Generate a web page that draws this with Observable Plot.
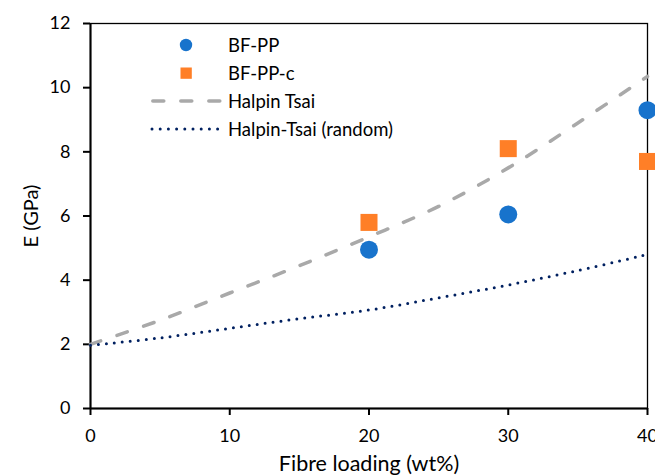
<!DOCTYPE html>
<html><head><meta charset="utf-8">
<script src="https://cdn.jsdelivr.net/npm/d3@7"></script>
<script src="https://cdn.jsdelivr.net/npm/@observablehq/plot@0.6"></script>
<style>
body{margin:0;background:#fff;}
#wrap{position:relative;width:655px;height:475px;overflow:hidden;font-family:Lato, sans-serif;}
#wrap svg [aria-label="x-axis label"] text{font-size:21.5px;}
#wrap svg [aria-label="y-axis label"] text{font-size:20px;}
.legend{position:absolute;left:150px;top:31px;}
.row{display:flex;align-items:center;height:28px;}
.row span{font-size:18.5px;color:#000;margin-left:6px;white-space:nowrap;}
.row svg{display:block;}
</style></head><body><div id="wrap"></div>
<script>
// data
const loading = [20, 30, 40];
const bfpp = [4.95, 6.05, 9.3];
const bfppc = [5.8, 8.1, 7.7];
const modelX = [0, 5, 10, 15, 20, 25, 30, 35, 40];
const halpinTsai = [2.0, 2.75, 3.6, 4.45, 5.35, 6.3, 7.5, 8.9, 10.35];
const halpinTsaiRandom = [1.97, 2.2, 2.5, 2.8, 3.07, 3.45, 3.85, 4.3, 4.8];
const xTicks = [0, 10, 20, 30, 40];
const yTicks = [0, 2, 4, 6, 8, 10, 12];
const seriesNames = ["BF-PP", "BF-PP-c", "Halpin Tsai", "Halpin-Tsai (random)"];

const colBlue = "#1873CC", colOrange = "#FF7F27", colGray = "#A9A9A9", colNavy = "#002060";

const pts1 = loading.map((x, i) => ({x, y: bfpp[i]}));
const pts2 = loading.map((x, i) => ({x, y: bfppc[i]}));
const ht = modelX.map((x, i) => ({x, y: halpinTsai[i]}));
const htr = modelX.map((x, i) => ({x, y: halpinTsaiRandom[i]}));

const chart = Plot.plot({
  width: 655, height: 475,
  marginLeft: 90, marginRight: 8, marginTop: 23, marginBottom: 67,
  style: {fontFamily: "Lato, sans-serif", fontSize: "18px", color: "#000", background: "#fff"},
  x: {domain: [0, 40]},
  y: {domain: [0, 12]},
  marks: [
    Plot.frame({stroke: "#000", strokeWidth: 1.3}),
    Plot.axisX({ticks: xTicks, tickSize: 7, tickPadding: 14, strokeWidth: 2, fontSize: 18,
      label: "Fibre loading (wt%)", labelAnchor: "center", labelOffset: 62, labelArrow: "none"}),
    Plot.axisY({ticks: yTicks, tickSize: 7, tickPadding: 13, strokeWidth: 2, fontSize: 18,
      label: "E (GPa)", labelAnchor: "center", labelOffset: 67, labelArrow: "none"}),
    Plot.ruleX([0], {stroke: "#000", strokeWidth: 2}),
    Plot.ruleY([0], {stroke: "#000", strokeWidth: 2}),
    Plot.line(ht, {x: "x", y: "y", stroke: colGray, strokeWidth: 3.5, strokeDasharray: "11,17", strokeLinecap: "round", curve: "catmull-rom"}),
    Plot.line(htr, {x: "x", y: "y", stroke: colNavy, strokeWidth: 3, strokeDasharray: "0,8", strokeLinecap: "round", curve: "catmull-rom"}),
    Plot.dot(pts1, {x: "x", y: "y", r: 9, fill: colBlue, symbol: "circle"}),
    Plot.dot(pts2, {x: "x", y: "y", r: 9.6, fill: colOrange, symbol: "square"})
  ]
});
const wrap = document.getElementById("wrap");
wrap.appendChild(chart);

// legend overlay
const legend = document.createElement("div");
legend.className = "legend";
const ns = "http://www.w3.org/2000/svg";
const swatches = [
  s => { const c = document.createElementNS(ns, "circle"); c.setAttribute("cx", 36); c.setAttribute("cy", 14); c.setAttribute("r", 6.2); c.setAttribute("fill", colBlue); s.appendChild(c); },
  s => { const r = document.createElementNS(ns, "rect"); r.setAttribute("x", 30.5); r.setAttribute("y", 8.5); r.setAttribute("width", 11.3); r.setAttribute("height", 11.3); r.setAttribute("fill", colOrange); s.appendChild(r); },
  s => { const l = document.createElementNS(ns, "line"); l.setAttribute("x1", 2.8); l.setAttribute("x2", 70); l.setAttribute("y1", 14); l.setAttribute("y2", 14); l.setAttribute("stroke", colGray); l.setAttribute("stroke-width", 3.5); l.setAttribute("stroke-dasharray", "11,17"); l.setAttribute("stroke-linecap", "round"); s.appendChild(l); },
  s => { const l = document.createElementNS(ns, "line"); l.setAttribute("x1", 2); l.setAttribute("x2", 68); l.setAttribute("y1", 14); l.setAttribute("y2", 14); l.setAttribute("stroke", colNavy); l.setAttribute("stroke-width", 3); l.setAttribute("stroke-dasharray", "0,8.2"); l.setAttribute("stroke-linecap", "round"); s.appendChild(l); }
];
seriesNames.forEach((name, i) => {
  const row = document.createElement("div"); row.className = "row";
  const s = document.createElementNS(ns, "svg"); s.setAttribute("width", 72); s.setAttribute("height", 28);
  swatches[i](s);
  row.appendChild(s);
  const t = document.createElement("span"); t.textContent = name; row.appendChild(t);
  legend.appendChild(row);
});
wrap.appendChild(legend);
</script></body></html>
